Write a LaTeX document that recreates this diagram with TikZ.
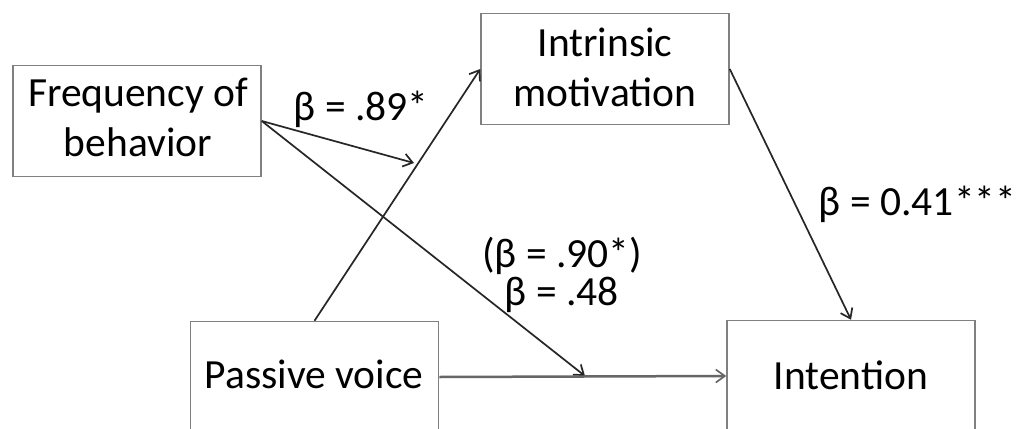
\documentclass[tikz,border=0pt]{standalone}
\usepackage{fontspec}
\setmainfont{Carlito}
\usetikzlibrary{arrows.meta}
\definecolor{boxgray}{gray}{0.5}
\definecolor{linegray}{gray}{0.15}
\definecolor{flatgray}{gray}{0.4}
\begin{document}
\begin{tikzpicture}[x=1pt,y=-1pt,
 box/.style={draw=boxgray, line width=1.5pt, minimum width=248pt, minimum height=111pt, inner sep=0pt},
 txt/.style={anchor=base, inner sep=0pt, font=\fontsize{41.5}{50}\selectfont},
 conn/.style={draw=linegray, line width=1.7pt, -{Straight Barb[length=9pt,width=13pt,line width=1.7pt]}},
]
\useasboundingbox (0,0) rectangle (1019,428);
\clip (0,0) rectangle (1019,428);
\fill[white] (0,0) rectangle (1019,428);
% boxes
\node[box] (freq) at (137,121) {};
\node[box] (intr) at (605,69) {};
\node[box] (pass) at (314.5,377) {};
\node[box] (intent) at (851,376) {};
% box texts
\node[txt] (freqA) at (138,106.7) {Frequency of};
\node[txt] (freqB) at (138,156.7) {behavior};
\node[txt] (intrA) at (605,56.7) {Intrinsic};
\node[txt] (intrB) at (605,106.7) {motivation};
\node[txt] (passT) at (314,388) {Passive voice};
\node[txt] (intentT) at (851,389) {Intention};
% free ends
\coordinate (m1) at (414,163);
\coordinate (m2) at (585,376);
% connectors
\draw[conn] (freq.east) -- (m1);
\draw[conn] (freq.east) -- (m2);
\draw[conn] (pass.north) -- (intr.west);
\draw[conn] (intr.east) -- (intent.north);
\draw[conn, draw=flatgray, line width=2.5pt] (pass.east) -- (intent.west);
% labels
\node[txt] (l1) at (361,120) {β = .89*};
\node[txt, align=center, font=\fontsize{41.5}{38}\selectfont] (l2) at (562,305) {(β = .90*)\\β = .48};
\node[txt] (l4) at (917.5,215) {β = 0.41***};
\end{tikzpicture}
\end{document}
